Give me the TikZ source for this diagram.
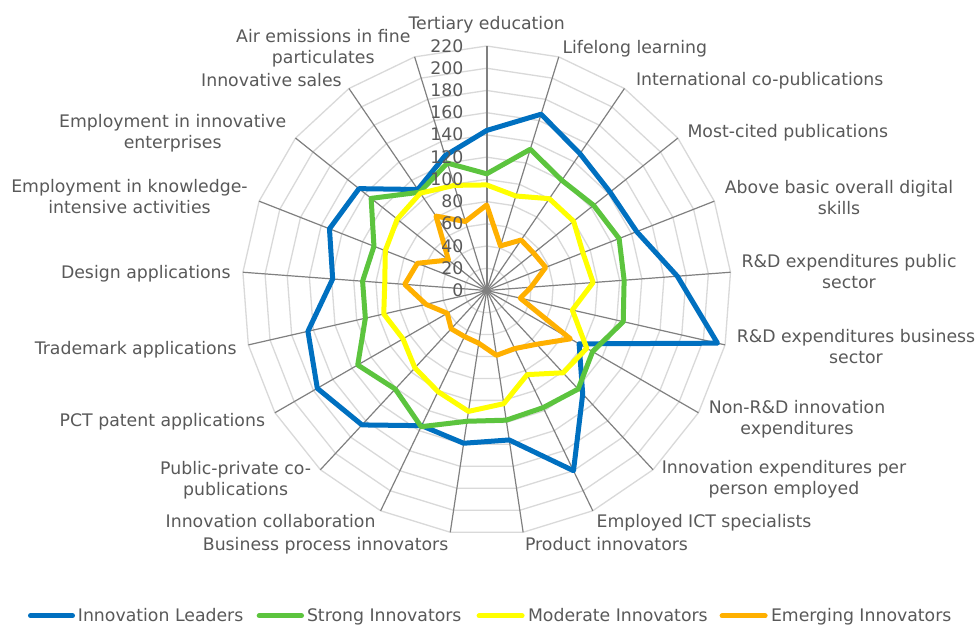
\documentclass[tikz,border=0pt]{standalone}
\usepackage{fontspec}
\setmainfont{DejaVu Sans}
\definecolor{cLead}{RGB}{0,112,192}
\definecolor{cStrong}{RGB}{92,196,62}
\definecolor{cMod}{RGB}{255,255,0}
\definecolor{cEmerg}{RGB}{255,176,0}
\definecolor{gridc}{RGB}{217,217,217}
\definecolor{spokec}{RGB}{128,128,128}
\definecolor{txtc}{RGB}{89,89,89}
\newcommand{\lstrut}{\rule[-4.5pt]{0pt}{18pt}}
\begin{document}
\begin{tikzpicture}[x=1pt,y=-1pt,
  lbl/.style={inner sep=0pt,outer sep=0pt,text=txtc,font=\fontsize{17.3}{21}\selectfont},
  twoline/.style={lbl,align=center},
  ring/.style={draw=gridc,line width=1.3pt},
  spokeline/.style={draw=spokec,line width=1.2pt},
  series/.style={line width=5pt,line join=round},
  legline/.style={line width=5pt,line cap=round}]
\pgfmathsetmacro{\valscale}{244.5/220}
\fill[white] (0,0) rectangle (977,626);
\useasboundingbox (0,0) rectangle (977,626);
\begin{scope}[shift={(486.7,290.5)}]
  % grid rings
  \foreach \r in {20,40,...,220}
    \draw[ring] (-90:{\r*\valscale}) foreach \i in {1,...,20}{ -- ({-90+\i*360/21}:{\r*\valscale})} -- cycle;
  % spokes
  \foreach \i in {1,...,20}
    \draw[spokeline] (0,0) -- ({-90+\i*360/21}:244.5);
  \draw[draw=spokec,line width=2.2pt] (0,0) -- (-90:244.5);
  % series coordinates
  \foreach \v [count=\i from 0] in {144,166,149,142,145,172,213,96,127,180,136,139,135,165,176,165,139,152,147,110,127}
    \coordinate (B\i) at ({-90+\i*360/21}:{\v*\valscale});
  \foreach \v [count=\i from 0] in {105,133,120,123,128,124,126,110,121,117,118,119,136,121,134,112,112,109,133,107,120}
    \coordinate (G\i) at ({-90+\i*360/21}:{\v*\valscale});
  \foreach \v [count=\i from 0] in {95,89,100,100,93,96,79,104,101,84,103,110,101,95,87,95,92,98,103,106,99}
    \coordinate (Y\i) at ({-90+\i*360/21}:{\v*\valscale});
  \foreach \v [count=\i from 0] in {77,42,55,54,57,40,31,87,66,58,59,48,46,47,41,56,74,67,44,81,65}
    \coordinate (O\i) at ({-90+\i*360/21}:{\v*\valscale});
  \draw[series,draw=cLead] (B0) foreach \i in {1,...,20}{ -- (B\i)} -- cycle;
  \draw[series,draw=cStrong] (G0) foreach \i in {1,...,20}{ -- (G\i)} -- cycle;
  \draw[series,draw=cMod] (Y0) foreach \i in {1,...,20}{ -- (Y\i)} -- cycle;
  \draw[series,draw=cEmerg] (O0) foreach \i in {1,...,20}{ -- (O\i)} -- cycle;
  % value axis labels
  \foreach \v in {0,20,...,220}
    \node[lbl,anchor=east] (ax\v) at (-23.2,{-\v*\valscale+1.5}) {\v\lstrut};
\end{scope}
% category labels
\node[lbl,anchor=center] (l0) at (486.7,25.5) {Tertiary education\lstrut};
\node[lbl,anchor=west] (l1) at (562.5,48.5) {Lifelong learning\lstrut};
\node[lbl,anchor=west] (l2) at (636,80.5) {International co-publications\lstrut};
\node[lbl,anchor=west] (l3) at (687.5,133) {Most-cited publications\lstrut};
\node[twoline] (l4) at (839,199.3) {Above basic overall digital\lstrut\\skills\lstrut};
\node[twoline] (l5) at (849,273.2) {R\&D expenditures public\lstrut\\sector\lstrut};
\node[twoline] (l6) at (856,348.9) {R\&D expenditures business\lstrut\\sector\lstrut};
\node[twoline] (l7) at (797,419.5) {Non-R\&D innovation\lstrut\\expenditures\lstrut};
\node[twoline] (l8) at (784,479.4) {Innovation expenditures per\lstrut\\person employed\lstrut};
\node[lbl,anchor=west] (l9) at (596.7,522.5) {Employed ICT specialists\lstrut};
\node[lbl,anchor=west] (l10) at (525.1,545.5) {Product innovators\lstrut};
\node[lbl,anchor=east] (l11) at (448.3,545.5) {Business process innovators\lstrut};
\node[lbl,anchor=east] (l12) at (375.5,522.5) {Innovation collaboration\lstrut};
\node[twoline] (l13) at (235.6,480.3) {Public-private co-\lstrut\\publications\lstrut};
\node[lbl,anchor=east] (l14) at (265,421.5) {PCT patent applications\lstrut};
\node[lbl,anchor=east] (l15) at (236.7,349.8) {Trademark applications\lstrut};
\node[lbl,anchor=east] (l16) at (230.7,274.2) {Design applications\lstrut};
\node[twoline] (l17) at (129.5,198.7) {Employment in knowledge-\lstrut\\intensive activities\lstrut};
\node[twoline] (l18) at (172.7,133) {Employment in innovative\lstrut\\enterprises\lstrut};
\node[lbl,anchor=east] (l19) at (341.7,81.5) {Innovative sales\lstrut};
\node[twoline] (l20) at (323.3,48.4) {Air emissions in fine\lstrut\\particulates\lstrut};
% legend
\coordinate (k1a) at (30.5,615.8); \coordinate (k1b) at (72.5,615.8);
\coordinate (k2a) at (259.2,615.8); \coordinate (k2b) at (301.5,615.8);
\coordinate (k3a) at (479.1,615.8); \coordinate (k3b) at (522.1,615.8);
\coordinate (k4a) at (722.1,615.8); \coordinate (k4b) at (765.1,615.8);
\draw[legline,draw=cLead] (k1a) -- (k1b);
\draw[legline,draw=cStrong] (k2a) -- (k2b);
\draw[legline,draw=cMod] (k3a) -- (k3b);
\draw[legline,draw=cEmerg] (k4a) -- (k4b);
\node[lbl,anchor=west] (t1) at (77.9,617.0) {Innovation Leaders\lstrut};
\node[lbl,anchor=west] (t2) at (307,617.0) {Strong Innovators\lstrut};
\node[lbl,anchor=west] (t3) at (528,617.0) {Moderate Innovators\lstrut};
\node[lbl,anchor=west] (t4) at (771,617.0) {Emerging Innovators\lstrut};
\end{tikzpicture}
\end{document}
